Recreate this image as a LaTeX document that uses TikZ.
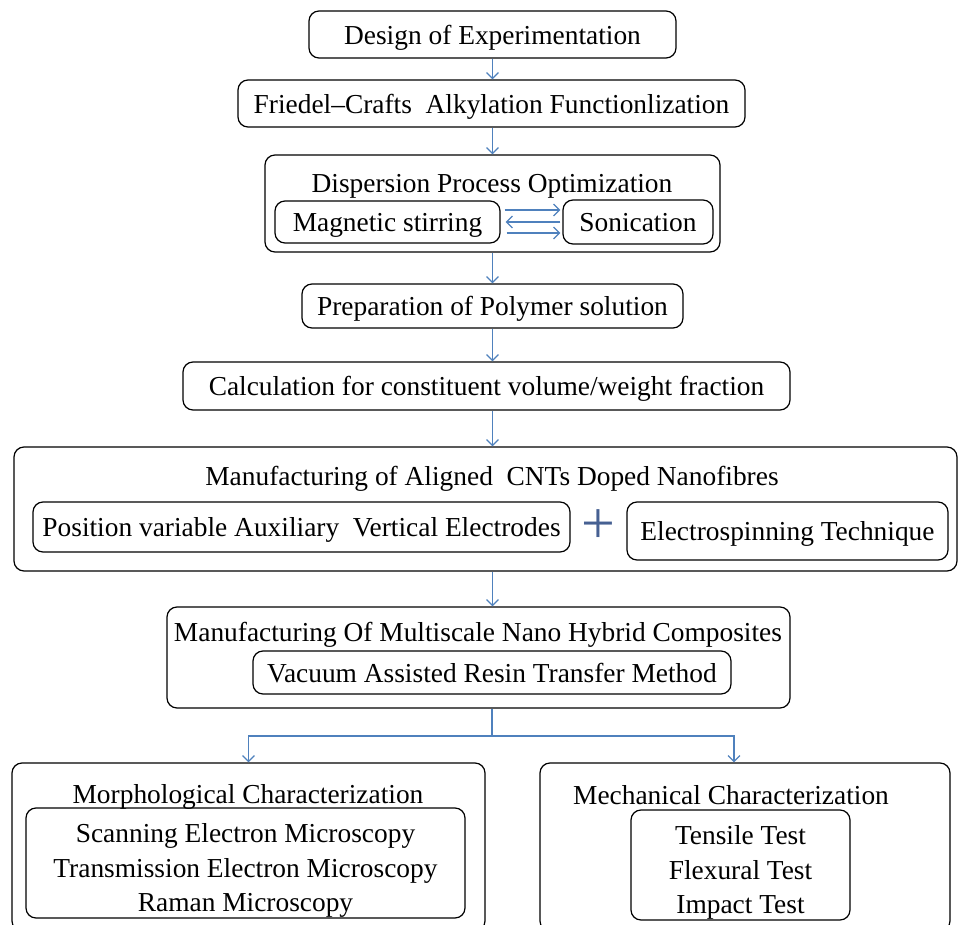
\documentclass[tikz,border=0pt]{standalone}
\usepackage{fontspec}
\setmainfont{Liberation Serif}
\usetikzlibrary{arrows.meta,calc,positioning}
\definecolor{arrowblue}{RGB}{79,129,189}
\definecolor{plusblue}{RGB}{70,96,146}
\newcommand\flowfont{\fontsize{13.7}{17.3}\selectfont}
\newcommand\topgap{\rule{0pt}{14pt}}

\begin{document}
\begin{tikzpicture}[x=0.5pt,y=-0.5pt,
  box/.style={draw,rounded corners=5pt,line width=0.6pt,inner sep=0pt,align=center,font=\flowfont,text depth=0pt},
  caption/.style={inner sep=0pt,font=\flowfont,text depth=0pt},
  arr/.style={draw=arrowblue,line width=0.6pt,-{Straight Barb[length=3pt,width=6pt]}},
  link/.style={draw=arrowblue,line width=0.6pt}]
  \clip(0,0)rectangle(959,925);
  \node[box,minimum width=183.5pt,minimum height=23.5pt](doe)at(492.5,34.5){Design of Experimentation};
  \node[box,minimum width=253.5pt,minimum height=23.5pt](fca)at(491.5,103.5){Friedel--Crafts\ \ Alkylation Functionlization};
  \node[box,minimum width=227.5pt,minimum height=48.5pt](dpo)at(492.5,203.5){};
  \node[caption](dpotitle)at(492,183){Dispersion Process Optimization};
  \node[box,minimum width=112.5pt,minimum height=21pt](mag)at(387.5,222){Magnetic stirring};
  \node[box,minimum width=75pt,minimum height=22pt](son)at(638,222){Sonication};
  \node[box,minimum width=190.5pt,minimum height=22pt](pps)at(492.5,306){Preparation of Polymer\ solution};
  \node[box,minimum width=303.5pt,minimum height=24pt](calc)at(486.5,386){Calculation for constituent volume/weight\ fraction};
  \node[box,minimum width=471.5pt,minimum height=62pt](mcnt)at(485.5,509){};
  \node[caption](mcnttitle)at(492,476){Manufacturing of Aligned\ \ CNTs Doped Nanofibres};
  \node[box,minimum width=268.5pt,minimum height=25pt](pos)at(301.5,527){Position variable Auxiliary\ \ Vertical Electrodes};
  \node[inner sep=0pt,text=plusblue,font=\fontsize{30}{30}\selectfont](plus)at(598,527){+};
  \node[box,minimum width=160.5pt,minimum height=29pt](esp)at(787.5,531){Electrospinning\ Technique};
  \node[box,minimum width=311.5pt,minimum height=50.5pt](mnh)at(478.5,657.5){};
  \node[caption](mnhtitle)at(478,632){Manufacturing Of Multiscale Nano Hybrid Composites};
  \node[box,minimum width=239pt,minimum height=21.5pt](vart)at(492,672.5){Vacuum Assisted Resin Transfer Method};
  \node[box,minimum width=236.5pt,minimum height=84pt](morph)at(248.5,847){};
  \node[caption](morphtitle)at(248,794){Morphological Characterization};
  \node[box,minimum width=219.5pt,minimum height=55pt](morphlist)at(245.5,863){\topgap Scanning Electron Microscopy\\Transmission Electron Microscopy\\Raman Microscopy};
  \node[box,minimum width=205pt,minimum height=84pt](mech)at(745,847){};
  \node[caption](mechtitle)at(731,795){Mechanical Characterization};
  \node[box,minimum width=109.5pt,minimum height=55pt](mechlist)at(740.5,865){\topgap Tensile Test\\Flexural Test\\Impact Test};
  \draw[arr](doe.south)--(doe.south|-fca.north);
  \draw[arr](doe.south|-fca.south)--(doe.south|-dpo.north);
  \draw[arr]([shift={(4,-12)}]mag.east)--([shift={(-2,-12)}]son.west);
  \draw[arr]([shift={(-2,0)}]son.west)--([shift={(5,0)}]mag.east);
  \draw[arr]([shift={(6,11)}]mag.east)--([shift={(-2,11)}]son.west);
  \draw[arr](doe.south|-dpo.south)--(doe.south|-pps.north);
  \draw[arr](doe.south|-pps.south)--(doe.south|-calc.north);
  \draw[arr](doe.south|-calc.south)--(doe.south|-mcnt.north);
  \draw[arr](doe.south|-mcnt.south)--(doe.south|-mnh.north);
  \coordinate(fork)at(492,736);
  \draw[link](vart.south|-mnh.south)--(fork);
  \draw[arr](fork)-|(morph.north);
  \draw[arr](fork)-|([xshift=-5.5pt]mech.north);
\end{tikzpicture}
\end{document}
